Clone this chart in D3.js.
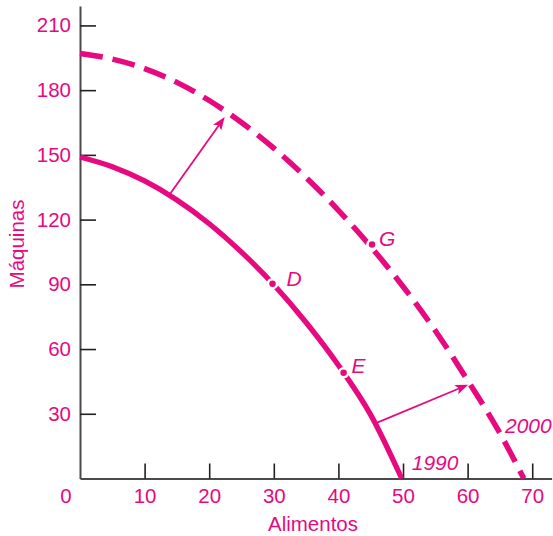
<!DOCTYPE html>
<html><head><meta charset="utf-8">
<script src="https://cdn.jsdelivr.net/npm/d3@7"></script>
<style>body{margin:0;background:#fff}svg{display:block}text{font-family:"Liberation Sans",Arial,Helvetica,sans-serif}</style>
</head><body><svg id="c" width="553" height="536"></svg>
<script>
// ---- data ----
const xTicks = [10, 20, 30, 40, 50, 60, 70];
const yTicks = [30, 60, 90, 120, 150, 180, 210];
const ppf1990x = [0, 5, 10, 15, 20, 25, 30, 35, 40, 45, 49.8];
const ppf1990y = [149, 144.5, 137.9, 129.1, 118.1, 104.9, 89.8, 72.3, 52.5, 29.5, 0];
const ppf2000x = [0, 5, 10, 15, 20, 25, 30, 35, 40, 45, 50, 55, 60, 65, 68.7];
const ppf2000y = [197, 194.4, 190, 183.6, 175.2, 165, 153.1, 139.5, 124.3, 107.5, 89, 68.5, 45.5, 21, 0];
const pointNames = ["D", "E", "G"];
const pointX = [29.8, 40.8, 45.2];
const pointY = [90.3, 49, 108.4];
const arrowFromX = [13.9, 46.0];
const arrowFromY = [131.7, 25.9];
const arrowToX = [22.4, 60.1];
const arrowToY = [167.5, 43.5];
const curveNames = ["1990", "2000"];
const xTitle = "Alimentos";
const yTitle = "Máquinas";

// ---- drawing ----
const PINK = "#e6097f";
const svg = d3.select("#c");
const x = d3.scaleLinear().domain([0, 73]).range([80, 551.6]);
const y = d3.scaleLinear().domain([0, 219]).range([478.5, 6]);

// axes
const ya = svg.append("g").attr("transform", "translate(80,0)")
  .call(d3.axisLeft(y).tickValues(yTicks).tickSizeInner(-16).tickSizeOuter(0).tickPadding(9));
const xa = svg.append("g").attr("transform", "translate(0,478.5)")
  .call(d3.axisBottom(x).tickValues(xTicks).tickSizeInner(-15).tickSizeOuter(0).tickPadding(10));
[ya, xa].forEach(g => {
  g.select(".domain").attr("stroke", "#4a4a4a").attr("stroke-width", 2);
  g.selectAll(".tick line").attr("stroke", "#222").attr("stroke-width", 1.6);
  g.selectAll(".tick text").attr("fill", PINK).attr("font-size", 20.5)
    .attr("font-family", '"Liberation Sans",Arial,sans-serif');
});
svg.append("text").attr("x", 66).attr("y", 503).attr("text-anchor", "middle")
  .attr("fill", PINK).attr("font-size", 20.5).text("0");

// titles
svg.append("text").attr("x", 313).attr("y", 531).attr("text-anchor", "middle")
  .attr("fill", PINK).attr("font-size", 20.5).text(xTitle);
svg.append("text").attr("transform", "translate(24,244) rotate(-90)").attr("text-anchor", "middle")
  .attr("fill", PINK).attr("font-size", 20.5).text(yTitle);

const line = d3.line().x(d => x(d[0])).y(d => y(d[1])).curve(d3.curveMonotoneX);
const c1990 = ppf1990x.map((v, i) => [v, ppf1990y[i]]);
const c2000 = ppf2000x.map((v, i) => [v, ppf2000y[i]]);

svg.append("path").attr("d", line(c2000)).attr("fill", "none").attr("stroke", PINK)
  .attr("stroke-width", 5.5).attr("stroke-dasharray", "23 10");
svg.append("path").attr("d", line(c1990)).attr("fill", "none").attr("stroke", PINK)
  .attr("stroke-width", 5.3);

// arrows
arrowFromX.forEach((fx, i) => {
  const x0 = x(fx), y0 = y(arrowFromY[i]), x1 = x(arrowToX[i]), y1 = y(arrowToY[i]);
  const ang = Math.atan2(y1 - y0, x1 - x0);
  const L = 13, W = 5;
  const bx = x1 - L * Math.cos(ang), by = y1 - L * Math.sin(ang);
  svg.append("line").attr("x1", x0).attr("y1", y0).attr("x2", bx + 3 * Math.cos(ang)).attr("y2", by + 3 * Math.sin(ang))
    .attr("stroke", PINK).attr("stroke-width", 1.8);
  const px = -Math.sin(ang), py = Math.cos(ang);
  const notchx = x1 - (L - 3) * Math.cos(ang), notchy = y1 - (L - 3) * Math.sin(ang);
  svg.append("path").attr("d", `M${x1},${y1}L${bx + W * px},${by + W * py}L${notchx},${notchy}L${bx - W * px},${by - W * py}Z`)
    .attr("fill", PINK);
});

// points
pointNames.forEach((n, i) => {
  svg.append("circle").attr("cx", x(pointX[i])).attr("cy", y(pointY[i])).attr("r", 4.5)
    .attr("fill", PINK).attr("stroke", "#fff").attr("stroke-width", 2.5);
});
const labelDx = [14, 8, 7], labelDy = [2, 0, 1];
pointNames.forEach((n, i) => {
  svg.append("text").attr("x", x(pointX[i]) + labelDx[i]).attr("y", y(pointY[i]) + labelDy[i])
    .attr("fill", PINK).attr("font-size", 21).attr("font-style", "italic").text(n);
});
// curve labels
svg.append("text").attr("x", x(ppf1990x[ppf1990x.length - 1]) + 10).attr("y", 470)
  .attr("fill", PINK).attr("font-size", 21).attr("font-style", "italic").text(curveNames[0]);
svg.append("text").attr("x", 505).attr("y", 432.5)
  .attr("fill", PINK).attr("font-size", 21).attr("font-style", "italic").text(curveNames[1]);
</script></body></html>
